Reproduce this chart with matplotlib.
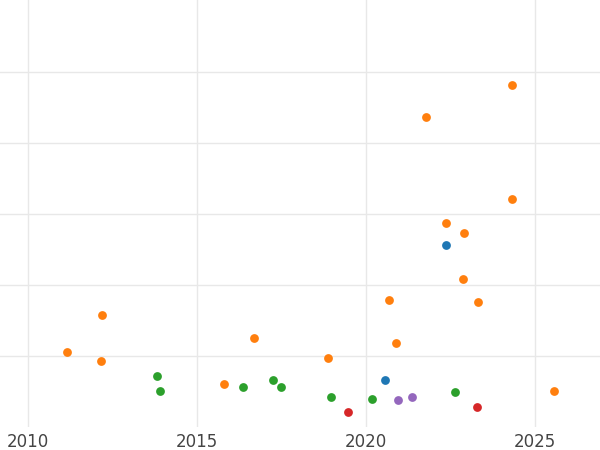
import matplotlib
matplotlib.use("Agg")
import matplotlib.pyplot as plt

# values (y in grid units)
orange_x = [2011.15, 2012.16, 2012.19, 2015.80, 2016.69, 2018.88, 2020.68, 2020.89,
            2021.78, 2022.37, 2022.87, 2022.90, 2023.31, 2024.32, 2024.32, 2025.56]
orange_y = [1.06, 0.93, 1.58, 0.61, 1.25, 0.97, 1.79, 1.18,
            4.37, 2.87, 2.08, 2.73, 1.76, 4.82, 3.21, 0.51]
green_x = [2013.82, 2013.91, 2016.36, 2017.25, 2017.49, 2018.96, 2020.18, 2022.63]
green_y = [0.72, 0.51, 0.56, 0.66, 0.56, 0.42, 0.39, 0.49]
blue_x = [2020.56, 2022.37]
blue_y = [0.66, 2.56]
red_x = [2019.47, 2023.28]
red_y = [0.21, 0.28]
purple_x = [2020.95, 2021.36]
purple_y = [0.38, 0.42]

fig = plt.figure(figsize=(6, 4.5), dpi=100)
ax = fig.add_axes([0, 0.051, 1, 0.949])

for xs, ys, c in [(orange_x, orange_y, "#ff7f0e"), (green_x, green_y, "#2ca02c"),
                  (blue_x, blue_y, "#1f77b4"), (red_x, red_y, "#d62728"),
                  (purple_x, purple_y, "#9467bd")]:
    ax.scatter(xs, ys, s=40, color=c, zorder=3, linewidths=0)

ax.set_xlim(2009.17, 2026.92)
ax.set_ylim(0, 6.01)
ax.set_xticks([2010, 2015, 2020, 2025])
ax.set_yticks([1, 2, 3, 4, 5])
ax.set_yticklabels([])
ax.grid(True, color="#e8e8e8", linewidth=1)
ax.set_axisbelow(True)
for s in ax.spines.values():
    s.set_visible(False)
ax.tick_params(length=0, labelsize=12, labelcolor="#444444", pad=4)

fig.savefig("out.png", dpi=100)
